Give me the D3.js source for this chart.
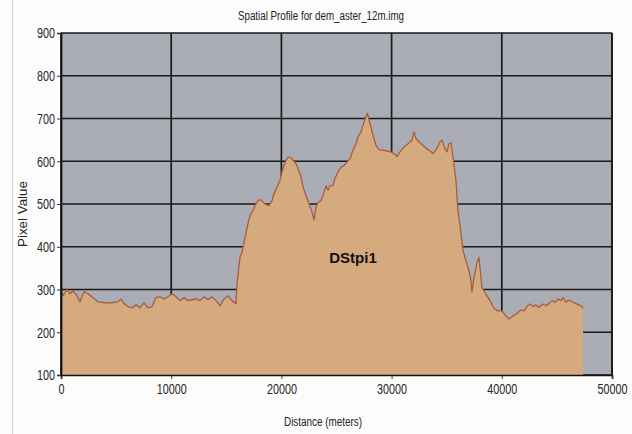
<!DOCTYPE html>
<html>
<head>
<meta charset="utf-8">
<script src="https://cdn.jsdelivr.net/npm/d3@7/dist/d3.min.js"></script>
<style>
  html, body { margin: 0; padding: 0; background: #fcfcfc; }
  svg { display: block; }
  text { font-family: "Liberation Sans Narrow", "Liberation Sans", Arial, sans-serif; }
</style>
</head>
<body>
<svg id="chart" width="632" height="434"></svg>
<script>
// Elevation profile along the transect (distance in metres, DEM pixel value)
const distances = [
  0, 180, 540, 820, 1090, 1450, 1720, 2090, 2450, 2900, 3360, 3990, 4630, 5170,
  5440, 5720, 6080, 6440, 6810, 7170, 7530, 7890, 8260, 8620, 8980, 9350, 9710,
  10070, 10440, 10800, 11160, 11520, 11890, 12250, 12610, 12980, 13340, 13700,
  14070, 14430, 14790, 15150, 15520, 15880, 15970, 16240, 16420, 16700, 16970,
  17150, 17420, 17700, 17880, 18150, 18330, 18600, 18870, 19150, 19330, 19600,
  19870, 20050, 20240, 20420, 20600, 20870, 21050, 21320, 21510, 21780, 21960,
  22230, 22500, 22780, 22960, 23140, 23320, 23590, 23770, 24050, 24230, 24410,
  24680, 24860, 25140, 25410, 25680, 25950, 26220, 26500, 26770, 26950, 27220,
  27400, 27680, 27810, 28040, 28310, 28580, 28860, 29220, 29580, 29940, 30310,
  30490, 30760, 31120, 31490, 31850, 32030, 32210, 32490, 32850, 33210, 33480,
  33760, 34030, 34390, 34570, 34840, 35030, 35210, 35390, 35570, 35840, 36020,
  36300, 36480, 36750, 37020, 37200, 37290, 37480, 37750, 37930, 38020, 38200,
  38470, 38660, 38930, 39290, 39650, 40020, 40380, 40650, 41010, 41380, 41740,
  42010, 42290, 42560, 42830, 43100, 43370, 43740, 44010, 44280, 44550, 44830,
  45100, 45370, 45550, 45820, 46010, 46190, 46460, 46730, 47000, 47190, 47370
];
const pixelValues = [
  297, 285, 300, 290, 297, 285, 271, 295, 290, 281, 271, 269, 269, 271,
  278, 267, 260, 257, 264, 257, 269, 257, 260, 281, 283, 278, 283,
  290, 283, 274, 281, 274, 276, 278, 274, 283, 276, 283,
  274, 262, 278, 285, 274, 267, 313, 375, 387, 422, 454,
  473, 485, 501, 508, 510, 504, 499, 496, 508, 524, 539,
  555, 575, 590, 602, 610, 608, 602, 595, 583, 563, 540,
  520, 501, 481, 463, 492, 504, 508, 520, 543, 532, 543,
  543, 560, 575, 586, 590, 598, 606, 626, 641, 657, 668,
  684, 704, 712, 688, 661, 637, 627, 626, 624, 622, 616,
  611, 622, 633, 641, 649, 668, 653, 645, 637, 629, 624,
  618, 626, 645, 650, 629, 622, 641, 643, 610, 555, 485,
  431, 391, 367, 344, 321, 295, 328, 363, 375, 352, 305,
  293, 285, 274, 256, 250, 250, 238, 231, 238, 244, 252,
  250, 260, 266, 260, 264, 258, 266, 262, 267, 274, 270,
  278, 274, 281, 270, 274, 275, 270, 267, 264, 262, 256
];
const xTicks = [0, 10000, 20000, 30000, 40000, 50000];
const yTicks = [100, 200, 300, 400, 500, 600, 700, 800, 900];
const seriesName = "DStpi1";
const chartTitle = "Spatial Profile for dem_aster_12m.img";
const xTitle = "Distance (meters)";
const yTitle = "Pixel Value";

const profile = distances.map((d, i) => ({ d, v: pixelValues[i] }));

const svg = d3.select("#chart");
const plot = { left: 61, right: 612, top: 33, bottom: 375 };

const x = d3.scaleLinear().domain([0, 50000]).range([plot.left, plot.right]);
const y = d3.scaleLinear().domain([100, 900]).range([plot.bottom, plot.top]);

// window frame edge
svg.append("line")
  .attr("x1", 12.5).attr("x2", 12.5).attr("y1", 0).attr("y2", 434)
  .attr("stroke", "#d4d4d4").attr("stroke-width", 1);

// plot background
svg.append("rect")
  .attr("x", plot.left).attr("y", plot.top)
  .attr("width", plot.right - plot.left).attr("height", plot.bottom - plot.top)
  .attr("fill", "#aaadb5");

// grid
const grid = svg.append("g").attr("stroke", "#1a1a1a").attr("stroke-width", 1.7);
grid.selectAll("line.h").data(yTicks).join("line")
  .attr("class", "h")
  .attr("x1", plot.left).attr("x2", plot.right)
  .attr("y1", d => y(d)).attr("y2", d => y(d));
grid.selectAll("line.v").data(xTicks).join("line")
  .attr("class", "v")
  .attr("y1", plot.top).attr("y2", plot.bottom)
  .attr("x1", d => x(d)).attr("x2", d => x(d));

// filled profile
const area = d3.area()
  .x(p => x(p.d))
  .y0(y(100))
  .y1(p => y(p.v));
svg.append("path")
  .datum(profile)
  .attr("d", area)
  .attr("fill", "#d5aa7f");

const line = d3.line().x(p => x(p.d)).y(p => y(p.v));
svg.append("path")
  .datum(profile)
  .attr("d", line)
  .attr("fill", "none")
  .attr("stroke", "#a85d3b")
  .attr("stroke-width", 1.3)
  .attr("stroke-linejoin", "round");

// axes
const xAxis = d3.axisBottom(x).tickValues(xTicks).tickSize(4).tickPadding(5).tickFormat(d3.format("d"));
const yAxis = d3.axisLeft(y).tickValues(yTicks).tickSize(4).tickPadding(2).tickFormat(d3.format("d"));

const gx = svg.append("g").attr("transform", `translate(0,${plot.bottom})`).call(xAxis);
const gy = svg.append("g").attr("transform", `translate(${plot.left},0)`).call(yAxis);
[gx, gy].forEach(g => {
  g.select(".domain").attr("stroke", "#111").attr("stroke-width", 1.7);
  g.selectAll(".tick line").attr("stroke", "#333");
  g.selectAll(".tick text")
    .attr("fill", "#262626")
    .style("font-size", "14px")
    .attr("textLength", d => String(d).length * 6)
    .attr("lengthAdjust", "spacingAndGlyphs");
});
gy.selectAll(".tick text").attr("dy", "0.35em");

// right border of plot
svg.append("line")
  .attr("x1", plot.right).attr("x2", plot.right)
  .attr("y1", plot.top).attr("y2", plot.bottom)
  .attr("stroke", "#1a1a1a").attr("stroke-width", 1.7);

// titles
svg.append("text")
  .attr("x", 321).attr("y", 20)
  .attr("text-anchor", "middle")
  .attr("fill", "#222")
  .style("font-size", "12px")
  .attr("textLength", 166).attr("lengthAdjust", "spacingAndGlyphs")
  .text(chartTitle);

svg.append("text")
  .attr("x", 323).attr("y", 426)
  .attr("text-anchor", "middle")
  .attr("fill", "#222")
  .style("font-size", "12px")
  .attr("textLength", 78).attr("lengthAdjust", "spacingAndGlyphs")
  .text(xTitle);

svg.append("text")
  .attr("transform", "translate(27,214) rotate(-90)")
  .attr("text-anchor", "middle")
  .attr("fill", "#222")
  .style("font-size", "12px")
  .attr("textLength", 66).attr("lengthAdjust", "spacingAndGlyphs")
  .text(yTitle);

// series label
svg.append("text")
  .attr("x", 353).attr("y", 263)
  .attr("text-anchor", "middle")
  .attr("fill", "#111")
  .style("font-size", "15px")
  .style("font-weight", "bold")
  .style("font-family", "'Liberation Sans', Arial, sans-serif")
  .text(seriesName);
</script>
</body>
</html>
